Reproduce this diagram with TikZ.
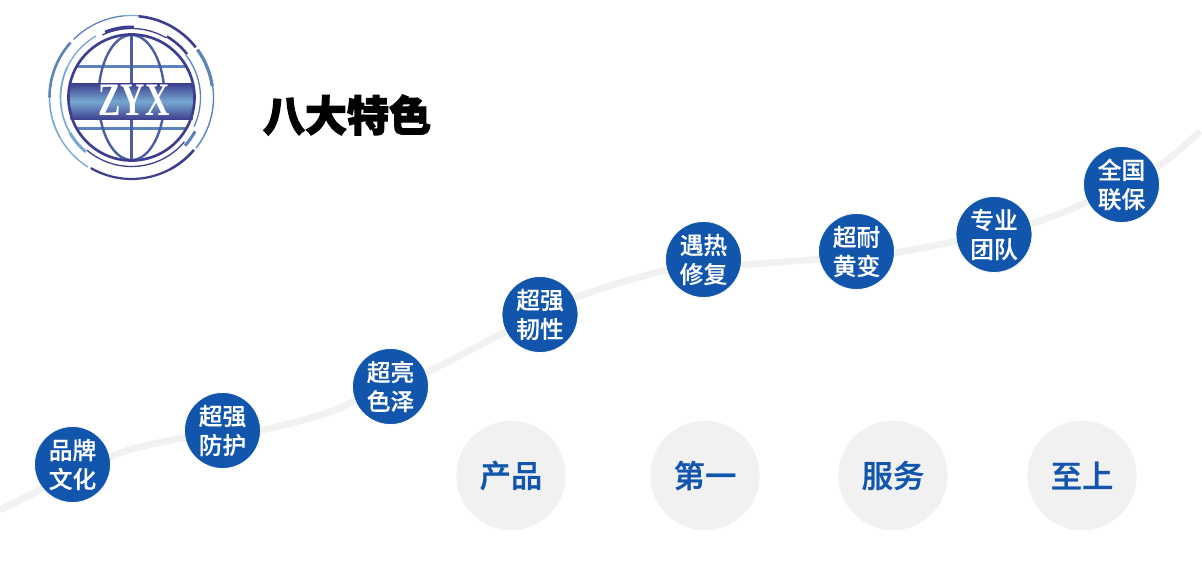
\documentclass[tikz,border=0pt]{standalone}
\usepackage{fontspec}
\usepackage{graphicx}
\setmainfont{Liberation Serif}
\newfontfamily\cjktitle[FakeBold=3]{Noto Sans CJK SC Black}
\newfontfamily\cjkmid[FakeBold=0.3]{Noto Sans CJK SC Medium}
\newfontfamily\cjkslogan[FakeBold=0.8]{Noto Sans CJK SC Medium}
\definecolor{zblue}{HTML}{1155AD}
\definecolor{zgrey}{HTML}{F1F1F1}
\definecolor{ringdark}{HTML}{3D3F8E}
\definecolor{ringmid}{HTML}{5C83BC}
\definecolor{ringlight}{HTML}{76A8D2}
\newcommand{\ringarc}[5]{\draw[line width=#4*0.75pt,color=#5,line cap=butt] (#2:#1) arc[start angle=#2,end angle=#3,radius=#1];}
\tikzset{
  x=0.75pt,y=-0.75pt,
  feature/.style={circle,fill=zblue,draw=white,line width=0.6pt,minimum size=57pt,inner sep=0pt,align=center,text=white,font=\cjkmid\fontsize{17.8}{21.8}\selectfont},
  slogan/.style={circle,fill=zgrey,minimum size=82pt,inner sep=0pt,text=zblue,font=\cjkslogan\fontsize{23.5}{28}\selectfont},
  trail/.style={line width=5pt,color=zgrey,line cap=butt},
  globe/.style={line width=1.8pt,color=ringdark!55!ringmid},
  gridline/.style={line width=1.6pt,color=ringmid}
}
\begin{document}
\begin{tikzpicture}
\useasboundingbox (0,0) rectangle (1202,570);
\fill[white] (0,0) rectangle (1202,570);
\coordinate (start) at (0,510);
\coordinate (finish) at (1200,131);
\draw[trail] plot[smooth,tension=0.5] coordinates {(start) (40,490) (110,457) (140,447) (185,438) (262,430) (330,412) (355,401) (427,372) (505,332) (577,297) (668,270) (740,265) (820,259) (892,253) (957,241) (1030,224) (1085,203) (1160,165) (finish)};
\node[feature] (f1) at (72.5,464.5) {品牌\\文化};
\node[feature] (f2) at (222.5,430.5) {超强\\防护};
\node[feature] (f3) at (390.5,386.5) {超亮\\色泽};
\node[feature] (f4) at (540,314.5) {超强\\韧性};
\node[feature] (f5) at (703.5,259.5) {遇热\\修复};
\node[feature] (f6) at (856.5,251.5) {超耐\\黄变};
\node[feature] (f7) at (994,234.5) {专业\\团队};
\node[feature] (f8) at (1121.5,184.5) {全国\\联保};
\node[slogan] (s1) at (511,475.5) {产品};
\node[slogan] (s2) at (705,475.5) {第一};
\node[slogan] (s3) at (893,475.5) {服务};
\node[slogan] (s4) at (1082,475.5) {至上};
\node[inner sep=0pt,font=\cjktitle\fontsize{31.5}{36}\selectfont] (title) at (347,115) {八大特色};
% logo
\begin{scope}[shift={(131.5,97.5)},y=0.75pt]
  \begin{scope}
    \clip (0,0) circle (62.5);
    \draw[gridline] (-70,-31) -- (70,-31);
    \draw[gridline] (-70,31) -- (70,31);
    \draw[globe] (0,-64) -- (0,64);
    \draw[globe] (0,0) ellipse (33 and 62.5);
  \end{scope}
  \shade[top color=ringdark,bottom color=ringdark,middle color=ringlight] (-61,14) rectangle (61,-22);
  \draw[line width=2pt,color=ringdark] (0,0) circle (63);
  \node[text=white,inner sep=0pt,font=\bfseries\fontsize{35}{35}\selectfont] (zyx) at (2.5,-3) {\scalebox{0.72}[1]{ZYX}};
  % middle ring
  \ringarc{69}{115}{60}{1.3}{ringdark}
  \ringarc{70.5}{112}{88}{3}{ringdark}
  \ringarc{70.5}{60}{38}{2.6}{ringdark}
  \ringarc{69}{38}{-25}{1.3}{ringmid}
  \ringarc{72}{-28}{-42}{3}{ringmid}
  \ringarc{69}{-40}{-130}{1.3}{ringdark}
  \ringarc{71}{-130}{-150}{3}{ringlight}
  \ringarc{71}{-150}{-205}{1.6}{ringlight}
  \ringarc{71}{180}{120}{1.3}{ringlight}
  % outer ring
  \ringarc{82}{135}{96}{1.3}{ringmid}
  \ringarc{82}{96}{85}{1.3}{ringlight}
  \ringarc{81.5}{85}{38}{2.6}{ringdark}
  \ringarc{81.5}{36}{8}{3.2}{ringmid}
  \ringarc{82}{8}{-38}{1.4}{ringmid}
  \ringarc{81.5}{-40}{-62}{2.6}{ringdark}
  \ringarc{81.5}{-62}{-120}{2.2}{ringdark}
  \ringarc{82}{-122}{-150}{1.3}{ringlight}
  \ringarc{82}{-150}{-205}{1.6}{ringlight}
  \ringarc{82}{180}{138}{2.6}{ringmid}
\end{scope}
\end{tikzpicture}
\end{document}
